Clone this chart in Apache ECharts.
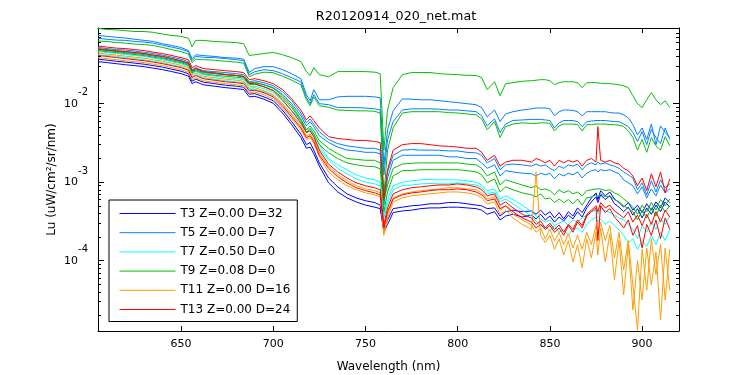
<!DOCTYPE html>
<html>
<head>
<meta charset="utf-8">
<script src="https://cdn.jsdelivr.net/npm/echarts@6/dist/echarts.min.js"></script>
<style>
html, body { margin: 0; padding: 0; background: #fff; }
#chart { width: 750px; height: 375px; }
</style>
</head>
<body>
<div id="chart"></div>
<script>
// wavelengths (nm), shared by every trace
const wavelength = [605,610,615,620,625,630,635,640,645,650,
  654,656,658,662,668,674,680,684,687,690,
  695,700,705,710,715,718,720,722,725,730,
  735,740,745,750,755,758,760,762,765,770,
  775,780,785,790,795,800,805,810,813,816,
  820,823,826,830,835,840,842.5,845,847.5,850,
  852.5,855,857.5,860,862.5,865,867.5,870,872.5,875,
  876,877.5,880,882.5,885,887.5,890,892.5,895,897.5,
  900,902.5,905,907.5,910,912.5,915];

// Lu values, one array per trace
const blue1 = [0.0369,0.0358,0.0347,0.0338,0.0328,0.0318,0.0305,0.0292,0.0275,0.0259,
  0.0241,0.0193,0.0205,0.0188,0.018,0.0172,0.0167,0.0162,0.0132,0.0134,
  0.0122,0.0109,0.0083,0.0059,0.0041,0.0030,0.0032,0.00256,0.00176,0.00113,
  0.00087,0.00071,0.00063,0.00058,0.00055,0.00051,0.00025,0.00033,0.00046,0.00048,
  0.0005,0.00051,0.00053,0.00053,0.00055,0.00055,0.00053,0.00051,0.0005,0.00046,
  0.00047,0.00037,0.00042,0.00044,0.00042,0.00043,0.00039,0.00044,0.00038,0.00042,
  0.00035,0.00041,0.00034,0.00042,0.00037,0.00047,0.00041,0.00051,0.00063,0.00073,
  0.00060,0.00078,0.00067,0.00075,0.00061,0.00055,0.00048,0.00055,0.00044,0.00051,
  0.00041,0.00053,0.00044,0.00056,0.00047,0.00063,0.00055];
const blue2 = [0.0343,0.0333,0.0323,0.0313,0.0305,0.0296,0.0283,0.0271,0.0256,0.0241,
  0.0224,0.018,0.019,0.0174,0.0167,0.016,0.0155,0.0151,0.0122,0.0124,
  0.0114,0.0101,0.0076,0.0054,0.0037,0.0027,0.0028,0.0023,0.0016,0.00098,
  0.00075,0.00063,0.00056,0.00051,0.00048,0.00046,0.00023,0.00029,0.00041,0.00043,
  0.00044,0.00046,0.00047,0.00047,0.00048,0.00048,0.00047,0.00046,0.00044,0.00039,
  0.00042,0.00033,0.00037,0.00039,0.00036,0.00038,0.00034,0.00039,0.00033,0.00037,
  0.00031,0.00036,0.00032,0.00038,0.00034,0.00042,0.00036,0.00047,0.00056,0.00065,
  0.00055,0.00069,0.00060,0.00067,0.00053,0.00048,0.00042,0.00048,0.00038,0.00046,
  0.00035,0.00047,0.00039,0.00051,0.00042,0.00056,0.00048];
const azure1 = [0.074,0.072,0.070,0.0685,0.066,0.064,0.062,0.058,0.055,0.052,
  0.0475,0.0375,0.042,0.041,0.040,0.0386,0.038,0.0369,0.025,0.028,
  0.0296,0.0296,0.0271,0.0241,0.0208,0.013,0.0109,0.0151,0.0112,0.0112,
  0.0122,0.0124,0.0124,0.0124,0.0122,0.0119,0.00166,0.00465,0.0081,0.0115,
  0.0114,0.0112,0.0112,0.0109,0.0106,0.0103,0.0100,0.0097,0.0089,0.0068,
  0.0083,0.0059,0.0074,0.0079,0.0083,0.0086,0.0088,0.0088,0.0088,0.0086,
  0.0070,0.0079,0.0083,0.0083,0.0082,0.0079,0.0070,0.0079,0.0079,0.0079,
  0.0079,0.0079,0.0079,0.0077,0.0076,0.0076,0.0072,0.0066,0.0054,0.0040,
  0.0049,0.0035,0.0055,0.0030,0.0052,0.0043,0.0037];
const azure2 = [0.068,0.066,0.0645,0.064,0.062,0.061,0.059,0.0556,0.0525,0.0495,
  0.046,0.0352,0.040,0.039,0.0386,0.0375,0.0363,0.0352,0.0234,0.0255,
  0.0271,0.0263,0.0241,0.0214,0.019,0.0119,0.0100,0.013,0.0100,0.0097,
  0.0089,0.0089,0.0089,0.0088,0.0086,0.0083,0.00124,0.00346,0.0059,0.0083,
  0.0086,0.0086,0.0086,0.0085,0.0083,0.0083,0.0081,0.0079,0.0070,0.0052,
  0.0064,0.0043,0.0055,0.0061,0.0062,0.0063,0.0063,0.0063,0.0062,0.0061,
  0.0049,0.0057,0.0061,0.0061,0.0061,0.0059,0.0051,0.0059,0.0060,0.0061,
  0.0061,0.0061,0.0061,0.0060,0.0059,0.0059,0.0055,0.0051,0.0043,0.0033,
  0.0044,0.0030,0.0047,0.0037,0.0031,0.0049,0.0035];
const azure3 = [0.052,0.0503,0.0488,0.0482,0.0467,0.0452,0.0435,0.0415,0.0391,0.0369,
  0.0343,0.0271,0.0288,0.0263,0.0256,0.0249,0.0241,0.0234,0.019,0.0196,
  0.0185,0.0169,0.0142,0.0109,0.0076,0.0057,0.0064,0.0055,0.0044,0.0035,
  0.0031,0.0029,0.0028,0.0027,0.0027,0.00256,0.00069,0.00135,0.0022,0.00256,
  0.0026,0.00256,0.00256,0.00255,0.0025,0.0025,0.0024,0.00236,0.0022,0.00176,
  0.0020,0.00144,0.00166,0.0017,0.00166,0.0016,0.0017,0.0016,0.00166,0.0015,
  0.0014,0.0016,0.0015,0.00166,0.0016,0.0017,0.00144,0.00166,0.00176,0.00166,
  0.0018,0.0017,0.00176,0.00166,0.0016,0.0015,0.00135,0.00124,0.00113,0.0008,
  0.00098,0.00069,0.00104,0.00075,0.00107,0.00085,0.00095];
const azure4 = [0.0488,0.0475,0.046,0.0448,0.0435,0.0422,0.0403,0.0386,0.0363,0.0343,
  0.0318,0.0252,0.0271,0.0249,0.0241,0.0234,0.0228,0.022,0.018,0.0185,
  0.0174,0.016,0.0132,0.0100,0.0070,0.0052,0.0059,0.0051,0.0039,0.0032,
  0.0028,0.00256,0.0025,0.0024,0.0024,0.0023,0.00051,0.00113,0.0019,0.0022,
  0.0022,0.0022,0.0022,0.0022,0.0021,0.0021,0.0020,0.0020,0.00176,0.0015,
  0.00166,0.0012,0.0014,0.00135,0.0013,0.00128,0.0012,0.0013,0.00124,0.0013,
  0.0011,0.00128,0.0012,0.0013,0.00124,0.00135,0.00113,0.0013,0.0014,0.00144,
  0.00135,0.00144,0.0014,0.00144,0.00135,0.00128,0.00107,0.00098,0.0009,0.00071,
  0.00087,0.00063,0.00082,0.00067,0.00092,0.00073,0.00082];
const cyan1 = [0.046,0.0448,0.0435,0.0422,0.041,0.040,0.038,0.0363,0.0343,0.0323,
  0.030,0.0241,0.0256,0.0234,0.0224,0.0214,0.0208,0.0202,0.0164,0.0167,
  0.0155,0.0138,0.0109,0.0081,0.0061,0.00465,0.0049,0.0041,0.0030,0.0020,
  0.00166,0.00144,0.00124,0.00113,0.00107,0.0010,0.00038,0.00060,0.0009,0.0010,
  0.00104,0.00107,0.00108,0.00107,0.00107,0.00107,0.00104,0.0010,0.00092,0.00078,
  0.00082,0.00061,0.00067,0.00060,0.00051,0.00042,0.00037,0.00034,0.00031,0.00033,
  0.00028,0.0003,0.00032,0.000285,0.00033,0.00031,0.00035,0.00038,0.00042,0.00044,
  0.00039,0.00047,0.00043,0.00041,0.00038,0.00035,0.00033,0.00029,0.00025,0.00019,
  0.00028,0.00023,0.00031,0.00025,0.00035,0.00029,0.00037];
const cyan2 = [0.0422,0.041,0.040,0.0386,0.0375,0.0363,0.0347,0.0333,0.0313,0.0296,
  0.0275,0.022,0.0234,0.0214,0.0205,0.0196,0.019,0.0185,0.0151,0.0153,
  0.0142,0.0126,0.0100,0.0074,0.0055,0.0043,0.0045,0.0038,0.0027,0.0019,
  0.0015,0.00128,0.0011,0.0010,0.00095,0.0009,0.00035,0.00053,0.0008,0.0009,
  0.00092,0.00095,0.00096,0.00095,0.00095,0.00098,0.00095,0.00092,0.00085,0.00071,
  0.00075,0.00056,0.00061,0.00053,0.00044,0.00037,0.00032,0.000285,0.00027,0.00024,
  0.00028,0.00023,0.00025,0.00021,0.00025,0.00026,0.00023,0.00029,0.00033,0.00036,
  0.00031,0.00034,0.00029,0.00032,0.00028,0.00025,0.00021,0.00017,0.00019,0.00014,
  0.00018,0.00015,0.00021,0.00016,0.00023,0.00018,0.00025];
const green1 = [0.091,0.088,0.087,0.085,0.083,0.083,0.081,0.077,0.074,0.072,
  0.068,0.053,0.064,0.064,0.062,0.061,0.060,0.058,0.041,0.042,
  0.0435,0.045,0.042,0.0386,0.0343,0.0256,0.0228,0.0288,0.0234,0.022,
  0.0256,0.0256,0.0256,0.0256,0.0252,0.0241,0.00256,0.0083,0.016,0.0234,
  0.0249,0.0249,0.0249,0.0241,0.0237,0.0234,0.023,0.0228,0.0214,0.0151,
  0.019,0.0126,0.018,0.0185,0.0193,0.0196,0.0199,0.0202,0.0202,0.0196,
  0.0174,0.0185,0.019,0.019,0.019,0.0185,0.016,0.0185,0.0185,0.0185,
  0.0185,0.0182,0.018,0.018,0.0177,0.0174,0.0169,0.016,0.0126,0.0100,
  0.0089,0.0112,0.0138,0.0112,0.0097,0.0109,0.0089];
const green2 = [0.0628,0.062,0.060,0.059,0.0574,0.0566,0.055,0.052,0.0488,0.046,
  0.0428,0.0333,0.0369,0.0363,0.0358,0.0347,0.0338,0.0328,0.022,0.0237,
  0.0252,0.0248,0.0224,0.0199,0.0174,0.0112,0.0094,0.0122,0.0094,0.0090,
  0.0083,0.0082,0.0081,0.0081,0.0080,0.0076,0.00069,0.00256,0.0049,0.0076,
  0.0079,0.0079,0.0079,0.0079,0.0077,0.0076,0.0074,0.0072,0.0064,0.00465,
  0.0059,0.0037,0.0051,0.0055,0.0057,0.0056,0.0056,0.0057,0.0057,0.0056,
  0.0045,0.0052,0.0055,0.0055,0.0055,0.0054,0.0045,0.0054,0.0054,0.0055,
  0.0055,0.0055,0.0055,0.0054,0.0054,0.0053,0.0051,0.0045,0.0037,0.00256,
  0.0035,0.0024,0.0037,0.0029,0.00256,0.0038,0.0029];
const green3 = [0.0503,0.0488,0.0475,0.046,0.0448,0.0435,0.0415,0.040,0.0375,0.0352,
  0.0328,0.0259,0.028,0.0256,0.0249,0.0237,0.023,0.0224,0.0185,0.0188,
  0.0174,0.0157,0.0126,0.0094,0.0064,0.00465,0.0052,0.0045,0.0034,0.0027,
  0.0023,0.0020,0.00195,0.0019,0.0019,0.00176,0.00060,0.00092,0.0015,0.0017,
  0.00174,0.00176,0.00176,0.00176,0.00176,0.00176,0.0017,0.00166,0.0015,0.0012,
  0.00135,0.00092,0.00107,0.0010,0.00092,0.00085,0.0009,0.0008,0.00082,0.00078,
  0.00069,0.0008,0.00073,0.00078,0.00071,0.00075,0.00067,0.00078,0.0008,0.00082,
  0.00078,0.00082,0.00078,0.0008,0.00073,0.00069,0.00061,0.00055,0.00048,0.00039,
  0.00051,0.00042,0.00055,0.00044,0.00060,0.0005,0.00061];
const green4 = [0.0475,0.046,0.0448,0.0435,0.0422,0.041,0.0391,0.0375,0.0352,0.0333,
  0.0309,0.0245,0.0263,0.0241,0.023,0.0224,0.0217,0.0211,0.0174,0.0177,
  0.0164,0.0148,0.0119,0.0089,0.0061,0.0043,0.0048,0.0041,0.0030,0.00236,
  0.0020,0.00176,0.00166,0.0016,0.00157,0.00148,0.00042,0.00075,0.0012,0.0014,
  0.00141,0.00144,0.00144,0.00144,0.00144,0.00144,0.0014,0.00135,0.00124,0.00098,
  0.0011,0.00075,0.00087,0.0008,0.00073,0.00069,0.00065,0.00071,0.00061,0.00063,
  0.00055,0.00061,0.00055,0.00060,0.00053,0.00061,0.00051,0.00063,0.00065,0.00069,
  0.00065,0.00071,0.00065,0.00067,0.00060,0.00056,0.0005,0.00046,0.00042,0.00033,
  0.00044,0.00035,0.00047,0.00037,0.00051,0.00042,0.0005];
const orange1 = [0.0441,0.0428,0.0415,0.0403,0.0391,0.038,0.0363,0.0347,0.0328,0.0309,
  0.0288,0.023,0.0245,0.0224,0.0214,0.0205,0.0199,0.0193,0.0157,0.016,
  0.0146,0.013,0.0100,0.0072,0.0052,0.0039,0.0041,0.0035,0.00236,0.0016,
  0.00124,0.00104,0.0009,0.00082,0.00078,0.00073,0.00023,0.00039,0.00063,0.00071,
  0.00075,0.00078,0.0008,0.00082,0.00085,0.00085,0.00082,0.0008,0.00073,0.00061,
  0.00065,0.00044,0.0005,0.00039,0.00033,0.000285,0.00023,0.00026,0.00019,0.00025,
  0.00018,0.00023,0.00016,0.00022,0.000145,0.00021,0.00014,0.00023,0.00016,0.00028,
  0.00021,0.00031,0.00018,0.00028,0.000108,0.00023,0.000076,0.00018,0.000049,0.000013,
  0.00014,0.000042,0.00019,0.000066,0.00016,0.0000315,0.00014];
const orange2 = [0.0386,0.0375,0.0363,0.0352,0.0343,0.0333,0.0318,0.0305,0.0288,0.0271,
  0.0252,0.0202,0.0214,0.0196,0.0188,0.018,0.0174,0.0169,0.0138,0.014,
  0.013,0.0115,0.0089,0.0064,0.00465,0.0035,0.0037,0.0031,0.0021,0.00135,
  0.00107,0.0009,0.0008,0.00073,0.00069,0.00065,0.00021,0.00035,0.00056,0.00063,
  0.00067,0.00069,0.00071,0.00073,0.00075,0.00075,0.00073,0.00069,0.00063,0.00053,
  0.00056,0.00039,0.00044,0.00035,0.00029,0.00025,0.00135,0.00021,0.00017,0.00021,
  0.00014,0.00019,0.000118,0.00018,0.000096,0.00016,0.000081,0.00019,0.000108,0.00023,
  0.000118,0.00026,0.000096,0.00022,0.000057,0.00018,0.0000366,0.00016,0.0000235,0.0001,
  0.0000315,0.000145,0.000049,0.000129,0.0000175,0.000145,0.000042];
const red1 = [0.0542,0.0525,0.051,0.0503,0.0488,0.0475,0.0452,0.0435,0.041,0.0386,
  0.0363,0.0288,0.0305,0.028,0.0271,0.0263,0.0256,0.0249,0.0202,0.0208,
  0.0196,0.018,0.0151,0.0115,0.0083,0.0062,0.0070,0.0061,0.0049,0.0038,
  0.0036,0.0035,0.0034,0.0034,0.0033,0.0032,0.00060,0.00144,0.00256,0.0030,
  0.0031,0.0031,0.0030,0.0029,0.00286,0.0028,0.0027,0.0027,0.0024,0.0019,
  0.0022,0.0016,0.0018,0.0019,0.0019,0.0018,0.0020,0.0019,0.00176,0.0019,
  0.0016,0.0019,0.00176,0.0019,0.0018,0.0019,0.0016,0.0019,0.0020,0.0018,
  0.0051,0.0019,0.0018,0.0019,0.00176,0.0017,0.0015,0.0014,0.0012,0.0009,
  0.00113,0.00078,0.00128,0.00087,0.00135,0.00073,0.0011];
const red2 = [0.0495,0.0482,0.0467,0.046,0.0448,0.0435,0.0415,0.040,0.0375,0.0352,
  0.0328,0.0263,0.028,0.0256,0.0245,0.0234,0.0228,0.022,0.018,0.018,
  0.0164,0.0146,0.0112,0.0081,0.0057,0.0043,0.0045,0.0038,0.00256,0.0017,
  0.00135,0.00113,0.00098,0.0009,0.00085,0.0008,0.000285,0.00047,0.00071,0.0008,
  0.00085,0.00087,0.0009,0.00092,0.00092,0.00095,0.00092,0.00087,0.0008,0.00067,
  0.00071,0.00051,0.00056,0.00047,0.00039,0.00035,0.00029,0.00032,0.00026,0.0003,
  0.00025,0.000285,0.00023,0.00029,0.00025,0.00033,0.00028,0.00039,0.00044,0.0005,
  0.00042,0.00055,0.00047,0.00051,0.00043,0.00039,0.00035,0.00042,0.00031,0.00038,
  0.00028,0.00039,0.00029,0.00042,0.00031,0.00044,0.00036];
const red3 = [0.041,0.040,0.0386,0.0375,0.0363,0.0352,0.0338,0.0323,0.0305,0.0288,
  0.0267,0.0214,0.0228,0.0208,0.0199,0.019,0.0185,0.018,0.0146,0.0148,
  0.0138,0.0122,0.0094,0.0068,0.0049,0.0037,0.0039,0.0033,0.0022,0.0015,
  0.00117,0.00098,0.00085,0.00078,0.00073,0.00069,0.00026,0.00042,0.00061,0.00069,
  0.00073,0.00075,0.00078,0.0008,0.0008,0.00082,0.0008,0.00075,0.00069,0.00058,
  0.00061,0.00046,0.0005,0.00042,0.00035,0.00031,0.00026,0.00029,0.00025,0.00028,
  0.00023,0.00026,0.00021,0.00028,0.00023,0.00031,0.00026,0.00037,0.00042,0.00047,
  0.00018,0.0005,0.00041,0.00046,0.00036,0.00031,0.00026,0.00033,0.00021,0.00028,
  0.000145,0.00029,0.00021,0.00033,0.00019,0.00035,0.00025];

const legendNames = ['T3 Z=0.00 D=32', 'T5 Z=0.00 D=7', 'T7 Z=0.50 D=0',
  'T9 Z=0.08 D=0', 'T11 Z=0.00 D=16', 'T13 Z=0.00 D=24'];
const xTickValues = [650, 700, 750, 800, 850, 900];

const BLUE = '#0000ff', AZURE = '#0080ff', CYAN = '#00ffff',
  GREEN = '#00c000', ORANGE = '#ff9c00', RED = '#ff0000';
const legendColors = [BLUE, AZURE, CYAN, GREEN, ORANGE, RED];
const FONT = 'DejaVu Sans';

// draw order: later entries end up on top
const traces = [
  ['T3 Z=0.00 D=32', BLUE, blue1],
  ['T3 b', BLUE, blue2],
  ['T5 Z=0.00 D=7', AZURE, azure1],
  ['T5 b', AZURE, azure2],
  ['T5 c', AZURE, azure3],
  ['T5 d', AZURE, azure4],
  ['T7 Z=0.50 D=0', CYAN, cyan1],
  ['T7 b', CYAN, cyan2],
  ['T9 Z=0.08 D=0', GREEN, green1],
  ['T9 b', GREEN, green2],
  ['T9 c', GREEN, green3],
  ['T9 d', GREEN, green4],
  ['T11 Z=0.00 D=16', ORANGE, orange1],
  ['T11 b', ORANGE, orange2],
  ['T13 Z=0.00 D=24', RED, red1],
  ['T13 b', RED, red2],
  ['T13 c', RED, red3]
];

const xMin = 605, xMax = 920;
const yMin = 1.27e-5, yMax = 0.092;

// minor ticks for the log axis, 2..9 x 10^n, in log10 units
const minorY = [];
for (let e = -5; e <= -2; e++) {
  for (let k = 2; k <= 9; k++) {
    const v = Math.log10(k) + e;
    if (v > Math.log10(yMin) && v < Math.log10(yMax)) minorY.push(v);
  }
}

function powerLabel(v) {
  const e = Math.round(Math.log10(v));
  if (Math.abs(v / Math.pow(10, e) - 1) > 1e-6) return '';
  return '{b|10}{s|' + e + '}';
}

const box = { left: 98, top: 28, right: 71, bottom: 44, outerBoundsMode: 'none' };
const black = { color: '#000', width: 1 };

const chart = echarts.init(document.getElementById('chart'));

chart.setOption({
  animation: false,
  graphic: [{
    type: 'text',
    x: 396,
    y: 10,
    style: {
      text: 'R20120914_020_net.mat',
      fontFamily: FONT,
      fontSize: 12.7,
      fill: '#000',
      align: 'center',
      verticalAlign: 'top'
    }
  }],
  legend: {
    data: legendNames.map((name, i) => ({
      name: name,
      itemStyle: { opacity: 0 },
      lineStyle: { color: legendColors[i], width: 1, opacity: 1 }
    })),
    orient: 'vertical',
    left: 109,
    top: 200,
    itemWidth: 56,
    itemHeight: 14,
    itemGap: 7.2,
    padding: [7.5, 7, 6, 10],
    borderColor: '#000',
    borderWidth: 1,
    borderRadius: 0,
    backgroundColor: '#fff',
    selectedMode: false,
    textStyle: { fontFamily: FONT, fontSize: 12, color: '#000' }
  },
  grid: [Object.assign({}, box), Object.assign({}, box)],
  xAxis: [
    {
      gridIndex: 0, type: 'value', position: 'bottom', min: xMin, max: xMax,
      name: 'Wavelength (nm)', nameLocation: 'middle', nameGap: 30,
      nameTextStyle: { fontFamily: FONT, fontSize: 12, color: '#000' },
      axisLine: { show: true, onZero: false, lineStyle: black },
      axisTick: { show: true, inside: true, length: 5, customValues: xTickValues, lineStyle: black },
      axisLabel: { customValues: xTickValues, fontFamily: FONT, fontSize: 11, color: '#000', margin: 8 },
      splitLine: { show: false }
    },
    {
      gridIndex: 0, type: 'value', position: 'top', min: xMin, max: xMax,
      axisLine: { show: true, onZero: false, lineStyle: black },
      axisTick: { show: true, inside: true, length: 5, customValues: xTickValues, lineStyle: black },
      axisLabel: { show: false },
      splitLine: { show: false }
    },
    { gridIndex: 1, type: 'value', min: xMin, max: xMax, show: false }
  ],
  yAxis: [
    {
      gridIndex: 0, type: 'log', position: 'left', min: yMin, max: yMax,
      name: 'Lu (uW/cm²/sr/nm)', nameLocation: 'middle', nameGap: 40, nameMoveOverlap: false,
      nameTextStyle: { fontFamily: FONT, fontSize: 12, color: '#000' },
      axisLine: { show: true, onZero: false, lineStyle: black },
      axisTick: { show: true, inside: true, length: 6, lineStyle: black },
      axisLabel: {
        formatter: powerLabel, margin: 10, showMinLabel: false, showMaxLabel: false,
        rich: {
          b: { fontFamily: FONT, fontSize: 11, color: '#000', lineHeight: 12, padding: [11, 0, 11, 0] },
          s: { fontFamily: FONT, fontSize: 10, color: '#000', lineHeight: 12, padding: [0, 0, 22, 0] }
        }
      },
      splitLine: { show: false }
    },
    {
      gridIndex: 0, type: 'log', position: 'right', min: yMin, max: yMax,
      axisLine: { show: true, onZero: false, lineStyle: black },
      axisTick: { show: true, inside: true, length: 6, lineStyle: black },
      axisLabel: { show: false },
      splitLine: { show: false }
    },
    {
      gridIndex: 1, type: 'value', position: 'left', min: Math.log10(yMin), max: Math.log10(yMax),
      axisLine: { show: false },
      axisTick: { show: true, inside: true, length: 3, customValues: minorY, lineStyle: black },
      axisLabel: { show: false },
      splitLine: { show: false }
    },
    {
      gridIndex: 1, type: 'value', position: 'right', min: Math.log10(yMin), max: Math.log10(yMax),
      axisLine: { show: false },
      axisTick: { show: true, inside: true, length: 3, customValues: minorY, lineStyle: black },
      axisLabel: { show: false },
      splitLine: { show: false }
    }
  ],
  series: traces.map(([name, color, values]) => ({
    name: name,
    type: 'line',
    xAxisIndex: 0,
    yAxisIndex: 0,
    data: wavelength.map((w, i) => [w, values[i]]),
    symbol: 'none',
    showSymbol: false,
    lineStyle: { width: 1, color: color },
    itemStyle: { color: color },
    emphasis: { disabled: true },
    silent: true
  }))
});
</script>
</body>
</html>
